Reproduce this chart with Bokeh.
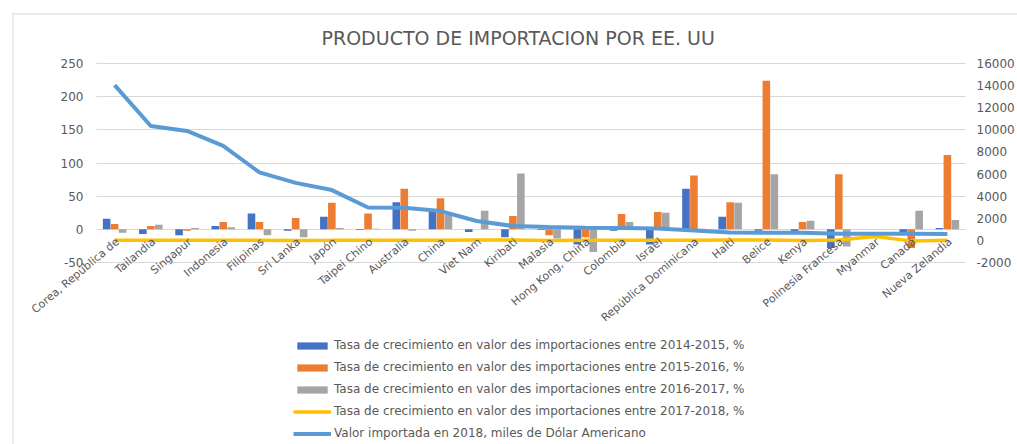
from bokeh.plotting import figure
from bokeh.models import (ColumnDataSource, Range1d, LinearAxis, FixedTicker, LabelSet,
                          Label, Legend, LegendItem, Span)
from bokeh.core.properties import value
from bokeh.embed import file_html
from bokeh.resources import INLINE

# ---------------- data ----------------
title_text = "PRODUCTO DE IMPORTACION POR EE. UU"
categories = ["Corea, República de", "Tailandia", "Singapur", "Indonesia", "Filipinas",
              "Sri Lanka", "Japón", "Taipei Chino", "Australia", "China", "Viet Nam",
              "Kiribati", "Malasia", "Hong Kong, China", "Colombia", "Israel",
              "República Dominicana", "Haiti", "Belice", "Kenya", "Polinesia Francesa",
              "Myanmar", "Canadá", "Nueva Zelandia"]
g1415 = [16, -7, -9, 5, 24, -2, 19, -1, 41, 28, -4, -12, -1, -23, -2, -23, 61, 19, -2, -4, -28, 0, -4, 2]
g1516 = [8, 5, -2, 11, 11, 17, 40, 24, 61, 47, 0, 20, -9, -12, 23, 26, 81, 41, 224, 11, 83, 0, -28, 112]
g1617 = [-5, 7, 2, 3, -9, -12, 2, 1, -2, 22, 28, 84, -14, -34, 11, 25, 1, 40, 83, 13, -26, 0, 28, 14]
g1718 = [10, 5, 8, 15, 12, -5, 7, 20, 14, 9, 25, 30, -10, 6, 18, 11, 22, 40, 35, -8, 30, 350, -45, 12]
value2018 = [14050, 10350, 9900, 8550, 6150, 5200, 4550, 2980, 2950, 2650, 1750, 1300,
             1220, 1150, 1120, 1080, 900, 720, 700, 680, 610, 600, 590, 570]

labels = ["Tasa de crecimiento en valor des importaciones entre 2014-2015, %",
          "Tasa de crecimiento en valor des importaciones entre 2015-2016, %",
          "Tasa de crecimiento en valor des importaciones entre 2016-2017, %",
          "Tasa de crecimiento en valor des importaciones entre 2017-2018, %",
          "Valor importada en 2018, miles de Dólar Americano"]
left_ticks = [-50, 0, 50, 100, 150, 200, 250]
right_ticks = [-2000, 0, 2000, 4000, 6000, 8000, 10000, 12000, 14000, 16000]

n = len(categories)
idx = list(range(n))
src = ColumnDataSource(dict(
    x=idx,
    xa=[i - 0.22 for i in idx], xb=idx, xc=[i + 0.22 for i in idx],
    g1415=g1415, g1516=g1516, g1617=g1617, g1718=g1718, v=value2018,
    cat=categories, zero=[0] * n))

FONT = "DejaVu Sans"
GREY = "#595959"
BORDER = "#D9D9D9"

# ---------------- layout (pixels) ----------------
# The frame covers the whole chart area; the gridded plot area sits inside it
# and the title, slanted category labels, axes labels and legend live around it.
W, H = 1017, 444
FL, FT = 11, 12                 # frame left / top
GX0, GX1 = 96, 965              # gridded area, horizontal
GY0, GY1 = 63, 262              # gridded area, vertical (top / bottom)
unit_px = (GX1 - GX0) / n
gpx = GY1 - GY0
l_lo, l_hi = left_ticks[0], left_ticks[-1]
r_lo, r_hi = right_ticks[0], right_ticks[-1]
x_start = -0.5 - (GX0 - FL) / unit_px
x_end = n - 0.5 + (W - GX1) / unit_px
f_top, f_bot = (GY0 - FT) / gpx, (H - GY1) / gpx
y_lo_l, y_hi_l = l_lo - f_bot * (l_hi - l_lo), l_hi + f_top * (l_hi - l_lo)

p = figure(width=W, height=H, output_backend="svg", toolbar_location=None,
           x_range=Range1d(x_start, x_end), y_range=Range1d(y_lo_l, y_hi_l),
           min_border_left=FL, min_border_right=0, min_border_top=FT, min_border_bottom=0)
p.extra_y_ranges = {"right": Range1d(r_lo - f_bot * (r_hi - r_lo), r_hi + f_top * (r_hi - r_lo))}
p.outline_line_color = None
p.background_fill_color = "white"
p.border_fill_color = "white"

# chart-area border (top and left edges)
p.add_layout(Span(location=y_hi_l - 1.5 / gpx * (l_hi - l_lo), dimension="width",
                  line_color=BORDER, line_width=1))
p.add_layout(Span(location=x_start + 1.5 / unit_px, dimension="height",
                  line_color=BORDER, line_width=1))

# title
p.add_layout(Label(x=321 - FL, y=H - 37, x_units="screen", y_units="screen", text=title_text,
                   text_align="left", text_baseline="middle", text_font=FONT,
                   text_font_size="19px", text_color=GREY))

p.xaxis.visible = False
p.xgrid.visible = False

ya = p.yaxis[0]
ya.fixed_location = -0.5
ya.ticker = FixedTicker(ticks=left_ticks)
ya.major_label_overrides = {t: str(t) for t in left_ticks}
ya.axis_line_color = None
ya.major_tick_line_color = None
ya.minor_tick_line_color = None
ya.major_tick_out = 0
ya.major_label_text_font = FONT
ya.major_label_text_font_size = "12px"
ya.major_label_text_color = GREY
ya.major_label_standoff = 13

grid = p.ygrid[0]
grid.ticker = FixedTicker(ticks=left_ticks)
grid.grid_line_color = BORDER
if "cross_bounds" in grid.properties():
    grid.cross_bounds = (-0.5, n - 0.5)
else:
    grid.visible = False
    gsrc = ColumnDataSource(dict(t=left_ticks, a=[-0.5] * len(left_ticks), b=[n - 0.5] * len(left_ticks)))
    p.segment(x0="a", x1="b", y0="t", y1="t", source=gsrc, line_color=BORDER, level="underlay")

ra = LinearAxis(y_range_name="right", ticker=FixedTicker(ticks=right_ticks))
ra.fixed_location = n - 0.5
ra.major_label_overrides = {t: str(t) for t in right_ticks}
ra.axis_line_color = None
ra.major_tick_line_color = None
ra.minor_tick_line_color = None
ra.major_tick_out = 0
ra.major_label_text_font = FONT
ra.major_label_text_font_size = "12px"
ra.major_label_text_color = GREY
ra.major_label_standoff = 11
p.add_layout(ra, "right")

# bars
b1 = p.vbar(x="xa", top="g1415", bottom=0, width=0.21, source=src, fill_color="#4472C4", line_color=None)
b2 = p.vbar(x="xb", top="g1516", bottom=0, width=0.21, source=src, fill_color="#ED7D31", line_color=None)
b3 = p.vbar(x="xc", top="g1617", bottom=0, width=0.21, source=src, fill_color="#A5A5A5", line_color=None)
# lines on secondary axis
l4 = p.line(x="x", y="g1718", source=src, y_range_name="right", line_color="#FFC000", line_width=3.5)
l5 = p.line(x="x", y="v", source=src, y_range_name="right", line_color="#5B9BD5", line_width=4)

# category labels hanging below the zero line
cl = LabelSet(x="x", y="zero", text="cat", source=src, angle=40, angle_units="deg",
              x_offset=3, y_offset=-11, text_align="right", text_baseline="middle",
              text_font=value(FONT), text_font_size="11px", text_color=GREY)
p.add_layout(cl)

legend = Legend(items=[LegendItem(label=labels[0], renderers=[b1]),
                       LegendItem(label=labels[1], renderers=[b2]),
                       LegendItem(label=labels[2], renderers=[b3]),
                       LegendItem(label=labels[3], renderers=[l4]),
                       LegendItem(label=labels[4], renderers=[l5])],
                location=(293 - FL, 1), orientation="vertical",
                glyph_width=38, glyph_height=9, label_height=20, spacing=2,
                label_standoff=3, padding=0, margin=0,
                border_line_color=None, background_fill_alpha=0,
                label_text_font=FONT, label_text_font_size="12px", label_text_color=GREY)
p.add_layout(legend, "center")

open("out.html", "w").write(file_html(p, INLINE))
